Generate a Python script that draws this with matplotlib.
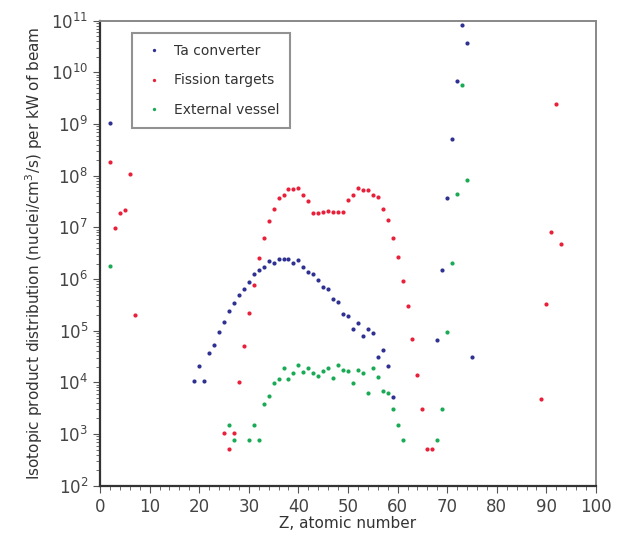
import matplotlib
matplotlib.use("Agg")
import matplotlib.pyplot as plt
from matplotlib.ticker import FixedLocator, MultipleLocator, FuncFormatter
import numpy as np

# Ta converter (Z, log10 value)
ta_z = [2] + list(range(19, 60)) + list(range(68, 76))
ta_log = [9.02,
          4.02, 4.32, 4.02, 4.57, 4.72, 4.98, 5.17, 5.39, 5.53, 5.69,
          5.81, 5.95, 6.09, 6.18, 6.23, 6.34, 6.32, 6.39, 6.39, 6.39,
          6.31, 6.36, 6.23, 6.14, 6.10, 5.98, 5.84, 5.81, 5.61, 5.55,
          5.33, 5.28, 5.04, 5.14, 4.90, 5.04, 4.95, 4.50, 4.62, 4.32,
          3.72,
          4.83, 6.17, 7.57, 8.72, 9.84, 10.92, 10.56, 4.50]

# Fission targets
fis_z = [2, 3, 4, 5, 6, 7] + list(range(25, 68)) + [89, 90, 91, 92, 93]
fis_log = [8.27, 6.98, 7.28, 7.34, 8.04, 5.31,
           3.02, 2.72, 3.02, 4.00, 4.70, 5.35, 5.89, 6.41, 6.79, 7.12,
           7.35, 7.56, 7.62, 7.74, 7.74, 7.76, 7.62, 7.52, 7.27, 7.27,
           7.29, 7.31, 7.30, 7.29, 7.30, 7.53, 7.62, 7.76, 7.73, 7.73,
           7.62, 7.59, 7.36, 7.15, 6.80, 6.43, 5.96, 5.47, 4.84, 4.15,
           3.49, 2.72, 2.72,
           3.67, 5.52, 6.92, 9.38, 6.67]

# External vessel
ext_z = [2, 26, 27, 30, 31, 32] + list(range(33, 62)) + list(range(68, 75))
ext_log = [6.26, 3.18, 2.88, 2.88, 3.18, 2.88,
           3.58, 3.73, 3.99, 4.06, 4.28, 4.06, 4.19, 4.33, 4.20, 4.28,
           4.19, 4.13, 4.23, 4.28, 4.09, 4.33, 4.24, 4.23, 3.99, 4.24,
           4.19, 3.79, 4.28, 4.11, 3.84, 3.79, 3.48, 3.18, 2.88,
           2.88, 3.48, 4.98, 6.32, 7.65, 9.75, 7.91]

decades = list(range(2, 12))

fig = plt.figure(figsize=(6.22, 5.37), dpi=100)
ax = fig.add_axes([0.1608, 0.0955, 0.7974, 0.8659])

ms = 3.0
ax.plot(ta_z, 10 ** np.array(ta_log), 'o', ms=ms, color='#2e3192', mec='none', label='Ta converter')
ax.plot(fis_z, 10 ** np.array(fis_log), 'o', ms=ms, color='#e8203a', mec='none', label='Fission targets')
ax.plot(ext_z, 10 ** np.array(ext_log), 'o', ms=ms, color='#1aaa55', mec='none', label='External vessel')

ax.set_yscale('log')
ax.set_xlim(0, 100)
ax.set_ylim(1e2, 1e11)
ax.xaxis.set_major_locator(MultipleLocator(10))
ax.xaxis.set_minor_locator(MultipleLocator(2))
ax.yaxis.set_major_locator(FixedLocator([10.0 ** d for d in decades]))
ax.yaxis.set_minor_locator(FixedLocator([m * 10.0 ** d for d in decades[:-1] for m in range(2, 10)]))
ax.yaxis.set_major_formatter(FuncFormatter(lambda v, p: r'$\mathregular{10^{%d}}$' % round(np.log10(v))))
ax.yaxis.set_minor_formatter(FuncFormatter(lambda v, p: ''))

ax.tick_params(which='both', direction='out', colors='#555555', labelcolor='#444444', labelsize=12)
ax.tick_params(which='major', length=5, width=0.8)
ax.tick_params(which='minor', length=3, width=0.6)

for s in ['left', 'bottom']:
    ax.spines[s].set_color('#333333')
    ax.spines[s].set_linewidth(1.6)
for s in ['top', 'right']:
    ax.spines[s].set_color('#888888')
    ax.spines[s].set_linewidth(1.4)

ax.set_xlabel('Z, atomic number', fontsize=11, color='#333333', labelpad=0)
ax.set_ylabel('Isotopic product distribution (nuclei/cm$^3$/s) per kW of beam',
              fontsize=11, color='#333333', labelpad=4)

leg = ax.legend(loc='upper left', bbox_to_anchor=(0.0645, 0.9735), borderaxespad=0,
                fancybox=False, fontsize=10, markerscale=0.8, handletextpad=0.6,
                borderpad=0.8, labelspacing=1.1, handlelength=1.6, labelcolor='#333333')
leg.get_frame().set_edgecolor('#777777')
leg.get_frame().set_linewidth(1.5)

plt.savefig('out.png', dpi=100)
